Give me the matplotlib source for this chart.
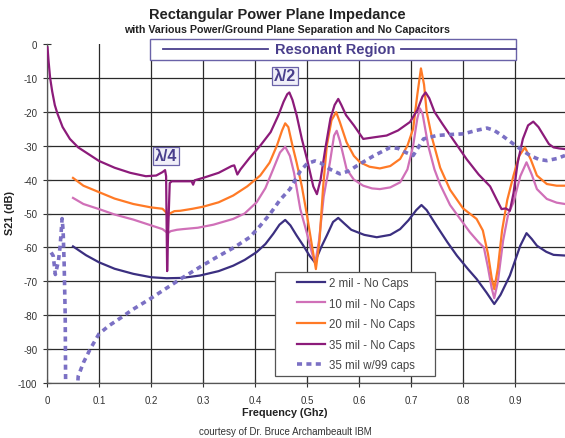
import matplotlib
matplotlib.use("Agg")
import matplotlib.pyplot as plt
from matplotlib.patches import Rectangle
from matplotlib.lines import Line2D

plt.rcParams['font.family'] = ['Liberation Sans', 'DejaVu Sans']
plt.rcParams['axes.unicode_minus'] = False

# ---------------- data ----------------
f_2mil = [0.05, 0.075, 0.10, 0.13, 0.166, 0.20, 0.23, 0.26, 0.294, 0.33, 0.358, 0.38, 0.403, 0.42,
          0.435, 0.447, 0.458, 0.468, 0.48, 0.493, 0.505, 0.515, 0.527, 0.538, 0.55, 0.56, 0.572,
          0.585, 0.61, 0.634, 0.66, 0.679, 0.695, 0.71, 0.72, 0.73, 0.749, 0.77, 0.788, 0.81, 0.826,
          0.845, 0.86, 0.872, 0.89, 0.91, 0.922, 0.932, 0.942, 0.96, 0.974, 0.996]
db_2mil = [-59.7, -62.3, -64.4, -66.3, -67.8, -68.8, -69.1, -69.0, -68.3, -67.0, -65.4, -63.7, -61.4, -59.0,
           -56.0, -53.3, -51.9, -53.5, -56.5, -59.5, -62.5, -64.4, -60.0, -56.5, -52.5, -51.3, -53.0,
           -54.8, -56.3, -57.0, -56.3, -54.6, -52.0, -49.0, -47.5, -49.0, -53.6, -58.5, -62.4, -66.5, -69.3,
           -73.3, -76.7, -74.0, -68.3, -59.5, -55.8, -57.5, -59.5, -61.3, -62.2, -62.4]

f_10mil = [0.05, 0.07, 0.10, 0.13, 0.166, 0.20, 0.222, 0.228, 0.232, 0.238, 0.25, 0.262, 0.29, 0.32,
           0.358, 0.38, 0.403, 0.42, 0.435, 0.448, 0.458, 0.467, 0.475, 0.487, 0.50, 0.51, 0.516,
           0.523, 0.532, 0.544, 0.552, 0.557, 0.563, 0.576, 0.59, 0.608, 0.625, 0.64, 0.66, 0.679,
           0.693, 0.704, 0.712, 0.717, 0.722, 0.733, 0.745, 0.756, 0.775, 0.794, 0.813, 0.83, 0.84,
           0.848, 0.855, 0.86, 0.867, 0.877, 0.887, 0.897, 0.91, 0.922, 0.932, 0.942, 0.961, 0.98, 0.996]
db_10mil = [-45.4, -47.2, -48.7, -50.3, -51.8, -53.5, -54.6, -55.3, -55.8, -55.2, -54.8, -54.6, -54.2, -53.3,
            -51.6, -50.0, -46.7, -42.5, -36.9, -32.0, -30.3, -33.0, -38.0, -48.7, -56.0, -62.0, -64.5,
            -58.0, -45.0, -34.9, -27.0, -25.6, -28.5, -36.9, -40.0, -41.8, -42.6, -42.8, -42.3, -40.8,
            -37.0, -30.0, -22.0, -19.0, -20.5, -30.0, -37.0, -41.5, -47.5, -51.5, -55.5, -58.5, -60.0,
            -66.0, -72.0, -75.0, -70.0, -58.0, -50.0, -46.7, -39.0, -34.9, -38.5, -42.8, -45.7, -46.8, -47.2]

f_20mil = [0.05, 0.07, 0.10, 0.13, 0.166, 0.20, 0.222, 0.228, 0.232, 0.236, 0.245, 0.256, 0.28, 0.30,
           0.33, 0.358, 0.385, 0.41, 0.428, 0.442, 0.452, 0.458, 0.464, 0.472, 0.48, 0.49, 0.50, 0.51,
           0.517, 0.524, 0.531, 0.538, 0.547, 0.556, 0.563, 0.576, 0.59, 0.602, 0.62, 0.64, 0.66, 0.679,
           0.693, 0.704, 0.712, 0.719, 0.725, 0.73, 0.74, 0.756, 0.775, 0.80, 0.826, 0.838, 0.848, 0.855,
           0.86, 0.867, 0.875, 0.885, 0.897, 0.908, 0.919, 0.93, 0.942, 0.961, 0.98, 0.996]
db_20mil = [-39.5, -41.8, -43.7, -45.6, -47.2, -48.2, -48.6, -49.5, -50.7, -50.0, -49.3, -49.2, -48.6, -48.0,
            -46.7, -44.7, -42.0, -38.8, -35.0, -30.0, -25.5, -23.4, -24.5, -30.0, -35.0, -42.0, -50.6, -60.0,
            -66.4, -58.0, -42.0, -30.0, -22.5, -20.1, -23.0, -29.0, -33.0, -34.9, -36.2, -36.7, -36.0, -33.9,
            -30.0, -25.0, -15.0, -7.2, -12.0, -20.0, -27.5, -36.5, -43.0, -48.5, -51.6, -55.0, -62.0, -69.0,
            -72.3, -66.0, -55.0, -46.0, -38.8, -33.0, -30.5, -34.0, -38.8, -41.3, -41.8, -41.8]

f_35mil = [0.001, 0.003, 0.006, 0.01, 0.015, 0.02, 0.03, 0.044, 0.06, 0.08, 0.10, 0.13, 0.16, 0.19, 0.21,
           0.222, 0.227, 0.229, 0.231, 0.233, 0.236, 0.24, 0.26, 0.278, 0.281, 0.284, 0.30, 0.33, 0.355,
           0.360, 0.366, 0.372, 0.39, 0.41, 0.43, 0.445, 0.455, 0.462, 0.466, 0.472, 0.48, 0.49, 0.50,
           0.512, 0.519, 0.526, 0.535, 0.545, 0.553, 0.560, 0.566, 0.575, 0.59, 0.608, 0.63, 0.653, 0.675,
           0.698, 0.712, 0.722, 0.728, 0.735, 0.745, 0.76, 0.78, 0.807, 0.83, 0.852, 0.865, 0.874, 0.882,
           0.890, 0.897, 0.905, 0.915, 0.925, 0.935, 0.945, 0.955, 0.965, 0.974, 0.985, 0.996]
db_35mil = [-1.0, -5.0, -10.0, -14.0, -18.0, -20.5, -24.5, -28.0, -30.5, -32.5, -34.5, -36.5, -38.0, -39.0, -38.8,
            -37.8, -37.2, -39.0, -67.0, -55.0, -41.0, -40.5, -40.5, -40.5, -41.5, -40.2, -39.5, -38.0, -36.0,
            -35.8, -38.5, -37.0, -33.5, -30.0, -26.0, -21.0, -17.0, -14.8, -14.3, -16.5, -21.0, -28.0, -34.0,
            -42.0, -44.3, -40.0, -31.0, -22.0, -18.0, -16.2, -18.0, -21.0, -24.0, -28.0, -27.5, -27.0, -25.5,
            -23.0, -19.5, -15.5, -14.3, -16.0, -20.0, -23.5, -28.0, -34.0, -38.5, -42.0, -46.0, -48.7, -48.5,
            -49.2, -44.0, -35.0, -28.0, -24.0, -22.9, -24.5, -27.0, -29.5, -30.5, -30.8, -31.0]

f_35caps = [0.008, 0.012, 0.016, 0.019, 0.022, 0.025, 0.027, 0.029, 0.031, 0.033, 0.035, 0.036, 0.057,
            0.060, 0.07, 0.083, 0.10, 0.12, 0.134, 0.165, 0.198, 0.23, 0.262, 0.294, 0.326, 0.36, 0.39,
            0.41, 0.429, 0.448, 0.467, 0.487, 0.50, 0.515, 0.525, 0.545, 0.563, 0.58, 0.596, 0.628, 0.66,
            0.675, 0.69, 0.704, 0.714, 0.724, 0.749, 0.775, 0.801, 0.825, 0.846, 0.86, 0.875, 0.897, 0.915,
            0.929, 0.945, 0.961, 0.98, 0.996]
db_35caps = [-61.5, -62.5, -68.0, -66.0, -64.0, -60.0, -56.0, -51.5, -55.0, -65.0, -80.0, -105.0, -105.0,
             -98.0, -94.0, -90.0, -85.5, -83.0, -81.6, -78.3, -75.2, -72.0, -68.8, -65.8, -62.9, -60.0, -57.0,
             -53.6, -50.1, -46.0, -42.8, -37.5, -35.3, -34.5, -35.0, -37.0, -38.3, -37.5, -35.9, -33.0, -30.5,
             -30.8, -32.0, -32.9, -30.5, -28.0, -27.0, -26.7, -26.5, -25.5, -24.8, -25.5, -27.0, -29.5, -31.5,
             -32.9, -34.0, -34.4, -33.8, -32.9]

series_labels = ["2 mil - No Caps", "10 mil - No Caps", "20 mil - No Caps",
                 "35 mil - No Caps", "35 mil w/99 caps"]
x_ticks = [0, 0.1, 0.2, 0.3, 0.4, 0.5, 0.6, 0.7, 0.8, 0.9]
x_tick_labels = ["0", "0.1", "0.2", "0.3", "0.4", "0.5", "0.6", "0.7", "0.8", "0.9"]
y_ticks = [0, -10, -20, -30, -40, -50, -60, -70, -80, -90, -100]

# ---------------- figure ----------------
W, H = 565, 439
fig = plt.figure(figsize=(W / 100, H / 100), dpi=100)
ax = fig.add_axes([47 / W, 1 - 384 / H, (W - 47) / W, (384 - 45) / H])

c_2 = "#3b2f80"
c_10 = "#d070b8"
c_20 = "#ff7a26"
c_35 = "#8c1b7a"
c_caps = "#7b70c4"

ax.plot(f_2mil, db_2mil, color=c_2, lw=1.6, label=series_labels[0], zorder=3)
ax.plot(f_10mil, db_10mil, color=c_10, lw=1.6, label=series_labels[1], zorder=3)
ax.plot(f_20mil, db_20mil, color=c_20, lw=1.6, label=series_labels[2], zorder=3)
ax.plot(f_35mil, db_35mil, color=c_35, lw=1.6, label=series_labels[3], zorder=3)
ax.plot(f_35caps, db_35caps, color=c_caps, lw=2.6, ls=(0, (1.4, 1.2)), label=series_labels[4], zorder=3)

ax.set_xlim(0, 0.996)
ax.set_ylim(-100, 0)
ax.set_xticks(x_ticks)
ax.set_xticklabels(x_tick_labels)
ax.set_yticks(y_ticks)
ax.tick_params(axis='both', labelsize=7, colors='#333333', direction='inout', length=6, width=0.8,
               pad=4)
ax.tick_params(axis='x', pad=6)
ax.grid(True, color='#2a2a2a', lw=0.9)
for gl, t in zip(ax.yaxis.get_gridlines(), ax.get_yticks()):
    if t == 0:
        gl.set_visible(False)
for s in ['top', 'right']:
    ax.spines[s].set_visible(False)
for s in ['left', 'bottom']:
    ax.spines[s].set_color('#555555')
    ax.spines[s].set_linewidth(0.9)

fig.text(285 / W, 1 - 413 / H, "Frequency (Ghz)", ha='center', va='center', fontsize=7.8,
         fontweight='bold', color='#222222')
fig.text(10 / W, 1 - 213 / H, "S21 (dB)", ha='center', va='center', rotation=90, fontsize=7.8,
         fontweight='bold', color='#222222')

# legend (frame drawn separately inside the axes so the legend sits on top)
ax.add_patch(Rectangle((275 / W, 1 - 377 / H), 160 / W, 104 / H, transform=fig.transFigure,
                       facecolor='white', edgecolor='#555555', lw=0.9, zorder=4, clip_on=False))
leg = ax.legend(loc='upper left', bbox_to_anchor=(297 / W, 1 - 278 / H), bbox_transform=fig.transFigure,
                fontsize=8.3, frameon=False, borderaxespad=0, borderpad=0,
                handlelength=2.45, handletextpad=0.3, labelspacing=0.74)
leg.set_zorder(5)
for t in leg.get_texts():
    t.set_color('#444444')

# titles
fig.text(277 / W, 1 - 15 / H, "Rectangular Power Plane Impedance", ha='center', va='center',
         fontsize=10.5, fontweight='bold', color='#222222')
fig.text(287 / W, 1 - 30 / H, "with Various Power/Ground Plane Separation and No Capacitors",
         ha='center', va='center', fontsize=7.7, fontweight='bold', color='#222222')
fig.text(285 / W, 1 - 432 / H, "courtesy of Dr. Bruce Archambeault IBM", ha='center', va='center',
         fontsize=7, color='#333333')

# resonant region box
box_col = "#4a3f8c"
fig.patches.append(Rectangle((150 / W, 1 - 61 / H), (516 - 150) / W, 21 / H, transform=fig.transFigure,
                             facecolor='white', edgecolor='#6a62a8', lw=1.0, zorder=5))
fig.lines.append(Line2D([163 / W, 268 / W], [1 - 50 / H, 1 - 50 / H], transform=fig.transFigure,
                        color=box_col, lw=1.3, zorder=6))
fig.lines.append(Line2D([401 / W, 516 / W], [1 - 50 / H, 1 - 50 / H], transform=fig.transFigure,
                        color=box_col, lw=1.3, zorder=6))
fig.text(335 / W, 1 - 50 / H, "Resonant Region", ha='center', va='center', fontsize=10.5,
         fontweight='bold', color=box_col, zorder=7)

# lambda labels
lab_box = dict(boxstyle='square,pad=0.1', facecolor='#f0eff8', edgecolor='#6a62a8', lw=0.9)
ax.text(0.229, -33.0, "λ/4", ha='center', va='center', fontsize=11.5, fontweight='bold',
        color=box_col, bbox=lab_box, zorder=6)
ax.text(0.458, -9.4, "λ/2", ha='center', va='center', fontsize=11.5, fontweight='bold',
        color=box_col, bbox=lab_box, zorder=6)

fig.savefig("out.png", dpi=100)
